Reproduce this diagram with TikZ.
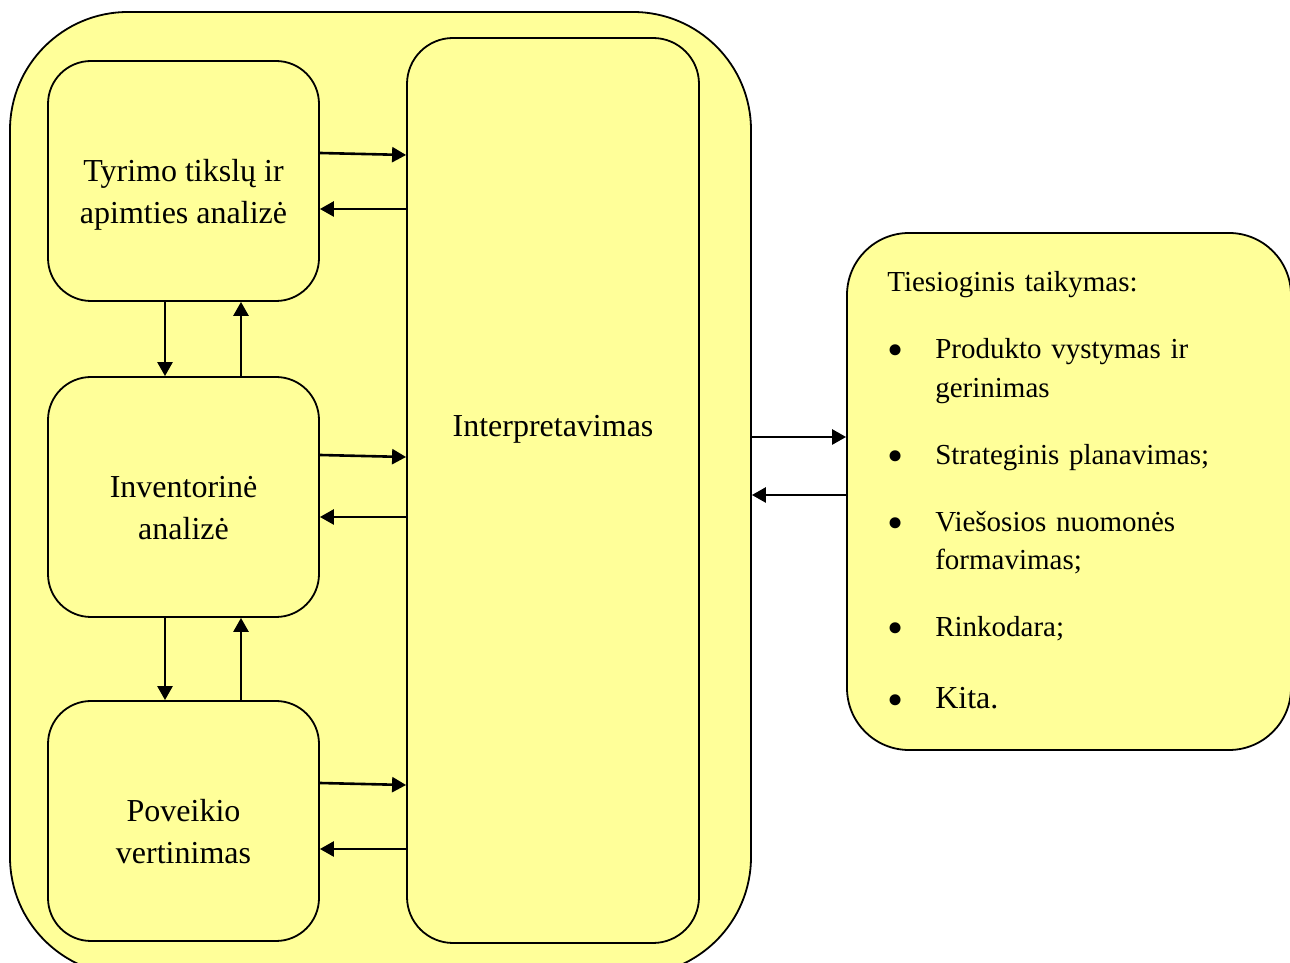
\documentclass[tikz,border=0pt]{standalone}
\usepackage{fontspec}
\setmainfont{Liberation Serif}
\usepackage{tikz}
\usetikzlibrary{calc,arrows.meta,positioning}

\definecolor{boxyellow}{RGB}{255,255,153}

\newcommand{\bulitem}[1]{\par\vskip28.5bp\hangindent=48bp\hangafter=1\noindent\hbox to 48bp{\raisebox{-7bp}{\fontsize{46bp}{0bp}\selectfont\textbullet}\hfil}#1}

\begin{document}
\begin{tikzpicture}[>={Triangle[length=14bp,width=15bp]},
	box/.style={draw, line width=1.8bp, fill=boxyellow, rounded corners=43bp, minimum width=271bp, minimum height=240bp, inner sep=0pt},
	txt/.style={font=\fontsize{32bp}{42bp}\selectfont, align=center, inner sep=0pt},
	link/.style={->, line width=2.6bp}]
	\useasboundingbox (0bp,0bp) rectangle (1290bp,963bp);

	\node (ramas)       at (380.5bp,469.5bp) [box, minimum width=741bp, minimum height=963bp, rounded corners=118bp] {};
	\node (tyrimas)     at (183.5bp,782bp)   [box] {};
	\node (inventorine) at (183.5bp,466bp)   [box] {};
	\node (poveikis)    at (183.5bp,142bp)   [box] {};
	\node (interp)      at (553bp,472.5bp)   [box, minimum width=292bp, minimum height=905bp, rounded corners=46bp] {};
	\node (taikymas)    at (1069bp,471.5bp)  [box, minimum width=444bp, minimum height=517bp, rounded corners=62bp] {};

	% two-line texts: base is the last line
	\node (tyrimasTxt)     at ($(tyrimas.center)+(0,-42.5bp)$)     [txt, anchor=base] {Tyrimo tikslų ir\\apimties analizė};
	\node (inventorineTxt) at ($(inventorine.center)+(0,-42.5bp)$) [txt, anchor=base] {Inventorinė\\analizė};
	\node (poveikisTxt)    at ($(poveikis.center)+(0,-42.5bp)$)    [txt, anchor=base] {Poveikio\\vertinimas};
	\node (interpTxt)      at ($(interp.center)+(0,53.5bp)$)       [txt, anchor=base] {Interpretavimas};
	\node (taikymasTxt)    at ($(taikymas.west)+(41bp,199.8bp)$) [anchor=base west, inner sep=0pt, text width=395bp, align=left,
		font=\fontsize{29bp}{38.5bp}\selectfont]
		{Tiesioginis taikymas:
		\bulitem{Produkto vystymas ir\newline gerinimas}
		\bulitem{Strateginis planavimas;}
		\bulitem{Viešosios nuomonės\newline formavimas;}
		\bulitem{Rinkodara;}
		\par\vskip5bp
		\bulitem{{\fontsize{32bp}{38.5bp}\selectfont Kita.}}};

	\draw [link] ($(tyrimas.east)+(0,28bp)$) -- ($(tyrimas.east -| interp.west)+(0,26bp)$);
	\draw [link] ($(tyrimas.east -| interp.west)+(0,-28bp)$) -- ($(tyrimas.east)+(0,-28bp)$);
	\draw [link] ($(inventorine.east)+(0,42bp)$) -- ($(inventorine.east -| interp.west)+(0,40bp)$);
	\draw [link] ($(inventorine.east -| interp.west)+(0,-20bp)$) -- ($(inventorine.east)+(0,-20bp)$);
	\draw [link] ($(poveikis.east)+(0,38bp)$) -- ($(poveikis.east -| interp.west)+(0,36bp)$);
	\draw [link] ($(poveikis.east -| interp.west)+(0,-28bp)$) -- ($(poveikis.east)+(0,-28bp)$);

	\draw [link] ($(tyrimas.south)+(-18.5bp,0)$) -- ($(inventorine.north)+(-18.5bp,0)$);
	\draw [link] ($(inventorine.north)+(57.5bp,0)$) -- ($(tyrimas.south)+(57.5bp,0)$);
	\draw [link] ($(inventorine.south)+(-18.5bp,0)$) -- ($(poveikis.north)+(-18.5bp,0)$);
	\draw [link] ($(poveikis.north)+(57.5bp,0)$) -- ($(inventorine.south)+(57.5bp,0)$);

	\draw [link] ($(ramas.east)+(0,56.5bp)$) -- ($(ramas.east -| taikymas.west)+(0,56.5bp)$);
	\draw [link] ($(ramas.east -| taikymas.west)+(0,-1.5bp)$) -- ($(ramas.east)+(0,-1.5bp)$);
\end{tikzpicture}
\end{document}
